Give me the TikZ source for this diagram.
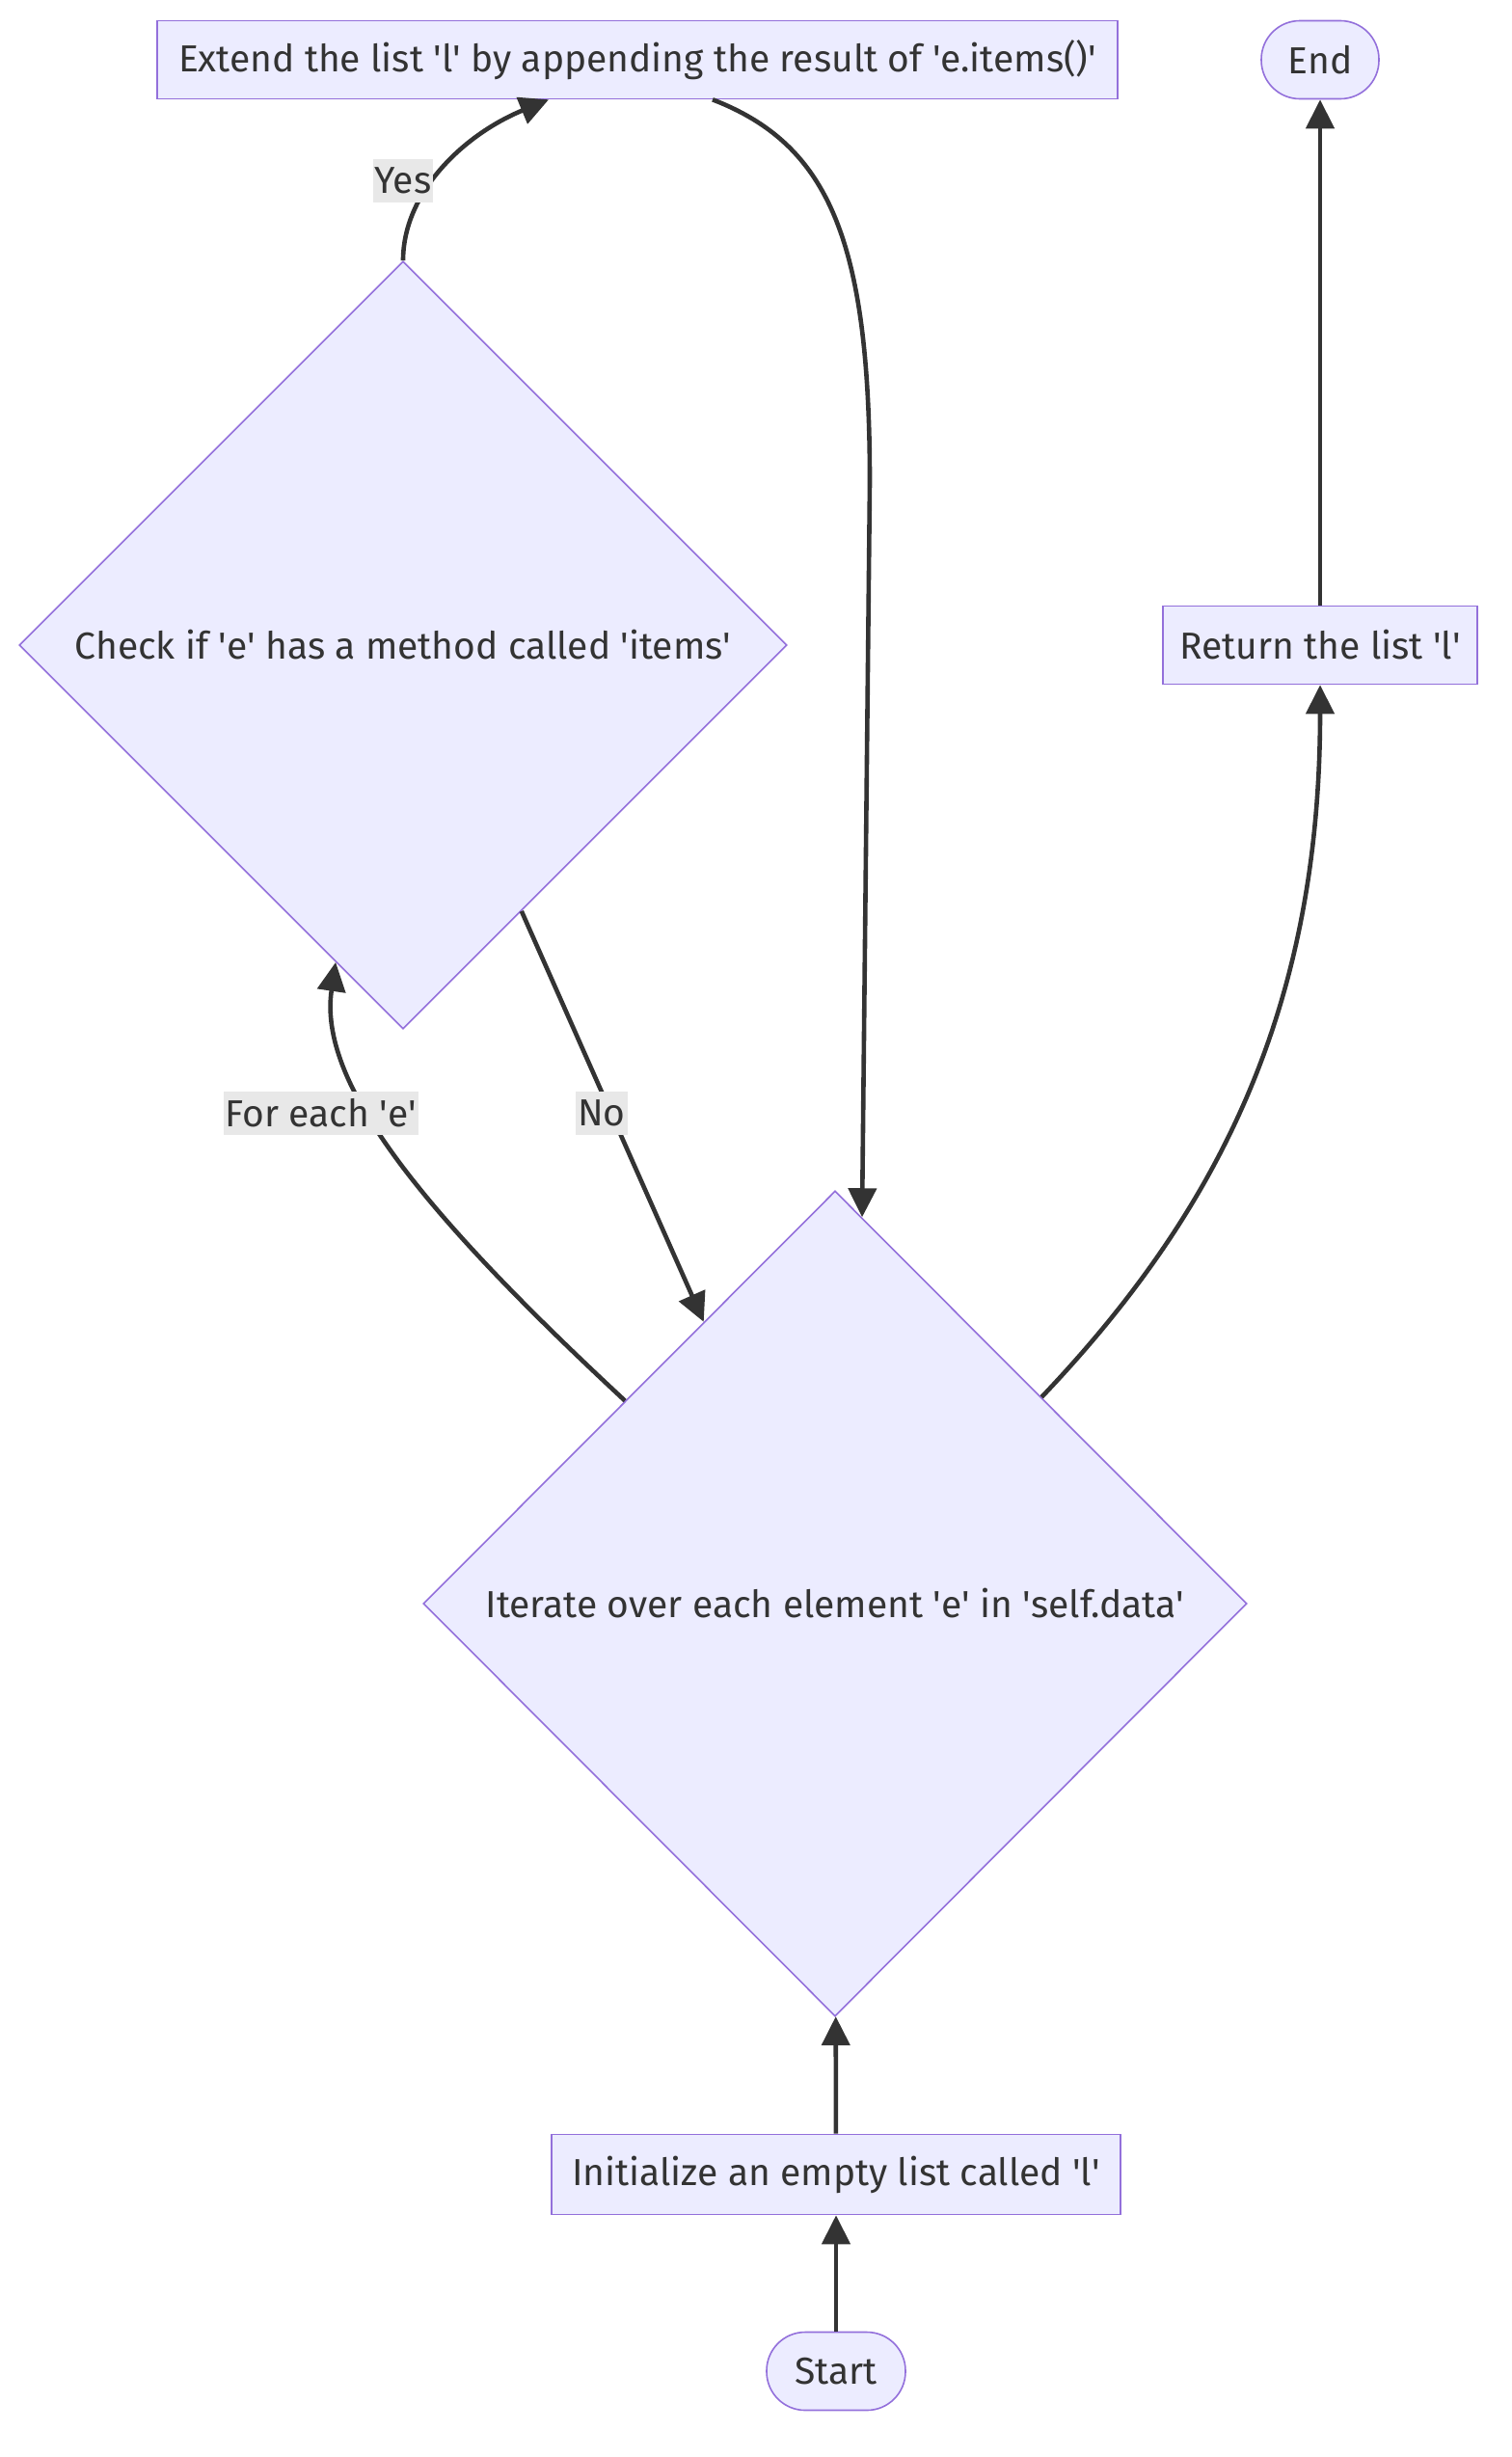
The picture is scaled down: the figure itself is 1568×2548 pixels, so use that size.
\documentclass[tikz,border=0pt]{standalone}
\usepackage{fontspec}
\setmainfont{Fira Sans}
\usetikzlibrary{shapes.geometric,arrows.meta}
\definecolor{boxfill}{HTML}{ECECFF}
\definecolor{boxline}{HTML}{9370DB}
\definecolor{edgecol}{HTML}{333333}
\definecolor{labelfill}{HTML}{E8E8E8}
\newcommand{\sq}{\textquotesingle}
\tikzset{
  flow/.style={draw=boxline,fill=boxfill,line width=0.8pt,text=edgecol,
    font=\fontsize{19.5}{23}\selectfont,inner sep=0pt},
  link/.style={draw=edgecol,line width=2.3pt,-{Triangle[width=14.5pt,length=15pt]}}
}

\begin{document}
\begin{tikzpicture}[x=0.5pt, y=-0.5pt]
            \tikzstyle{process}=[flow,rectangle,minimum height=40.5pt]
            \tikzstyle{terminal}=[flow,rectangle,rounded corners=20pt,minimum height=40.5pt]
            \tikzstyle{decision}=[flow,diamond,aspect=1]
            \tikzstyle{edgelabel}=[fill=labelfill,text=edgecol,font=\fontsize{19.5}{23}\selectfont,inner sep=1pt,minimum height=22.5pt]

            \useasboundingbox (0,0) rectangle (1568,2548);

            \node[terminal,minimum width=72pt] (N_start) at (867,2459) {Start};
            \node[process,minimum width=295pt,minimum height=41.5pt] (N_init) at (867,2255) {Initialize an empty list called \sq l\sq};
            \node[decision,minimum width=427pt,minimum height=428pt] (N_iter) at (866,1663) {Iterate over each element \sq e\sq{} in \sq self.data\sq};
            \node[decision,minimum width=398pt,minimum height=398pt] (N_check) at (418,669) {Check if \sq e\sq{} has a method called \sq items\sq};
            \node[process,minimum width=498pt] (N_extend) at (661,62) {Extend the list \sq l\sq{} by appending the result of \sq e.items()\sq};
            \node[process,minimum width=163pt] (N_return) at (1369,669) {Return the list \sq l\sq};
            \node[terminal,minimum width=61pt] (N_end) at (1369,62) {End};

            \draw[link] (N_start) -- (N_init);
            \draw[link] (N_init) -- (N_iter);
            \draw[link] (N_iter.136) .. controls (430,1250) and (330,1120) .. (N_check.258);
            \draw[link] (N_check.north) .. controls (418,200) and (480,140) .. ([xshift=-46pt]N_extend.south);
            \draw[link] ([xshift=39pt]N_extend.south) .. controls (860,150) and (902,250) .. (902,500) -- (N_iter.86);
            \draw[link] (N_check.294) -- (N_iter.115);
            \draw[link] (N_iter.45) .. controls (1260,1260) and (1369,1050) .. (N_return.south);
            \draw[link] (N_return) -- (N_end);

            \node[edgelabel] (L_yes) at (418,187) {Yes};
            \node[edgelabel] (L_each) at (333,1154) {For each \sq e\sq};
            \node[edgelabel] (L_no) at (624,1154) {No};
\end{tikzpicture}
\end{document}
